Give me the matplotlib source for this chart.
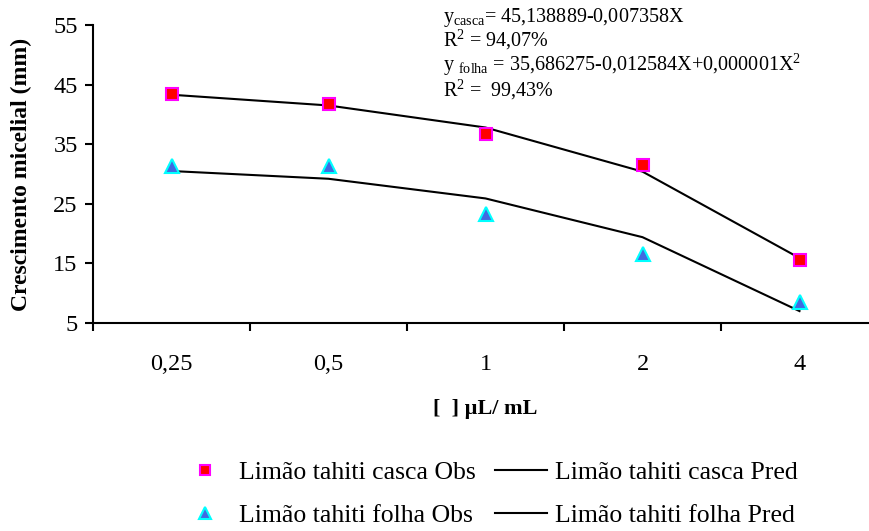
import matplotlib
matplotlib.use("Agg")
import matplotlib.pyplot as plt

plt.rcParams['font.family'] = ['Liberation Serif', 'DejaVu Serif']
plt.rcParams['mathtext.fontset'] = 'custom'
plt.rcParams['mathtext.rm'] = 'Liberation Serif'

doses = ['0,25', '0,5', '1', '2', '4']
casca_obs = [43.4, 41.7, 36.7, 31.5, 15.6]
folha_obs = [31.3, 31.3, 23.3, 16.6, 8.5]
casca_pred = [43.3, 41.5, 37.8, 30.4, 15.9]
folha_pred = [30.5, 29.2, 25.9, 19.4, 7.0]

fig = plt.figure(figsize=(8.7, 5.31), dpi=100)
ax = fig.add_axes([93 / 870, 208 / 531, 785 / 870, 298 / 531])

x = list(range(len(doses)))
l_cp, = ax.plot(x, casca_pred, color='black', lw=1.5, zorder=2)
l_fp, = ax.plot(x, folha_pred, color='black', lw=1.5, zorder=2)
m_co, = ax.plot(x, casca_obs, ls='none', marker='s', ms=9, mfc='red',
                mec='magenta', mew=1.5, zorder=3)
m_fo, = ax.plot(x, folha_obs, ls='none', marker='^', ms=10, mfc='royalblue',
                mec='cyan', mew=1.5, zorder=3)

ax.set_xlim(-0.5, 4.5)
ax.set_ylim(5, 55)
ax.set_yticks([5, 15, 25, 35, 45, 55])
ax.set_xticks(x)
ax.set_xticklabels(doses)
ax.set_xticks([-0.5, 0.5, 1.5, 2.5, 3.5], minor=True)
ax.tick_params(axis='x', which='major', length=0, pad=22, labelsize=17.5)
ax.tick_params(axis='x', which='minor', length=6, width=1.5, direction='out')
ax.tick_params(axis='y', length=6, width=1.5, labelsize=17.5, pad=5)
for s in ['top', 'right']:
    ax.spines[s].set_visible(False)
for s in ['left', 'bottom']:
    ax.spines[s].set_linewidth(1.5)

ax.set_ylabel('Crescimento micelial (mm)', fontsize=17, fontweight='bold')
ax.yaxis.set_label_coords(-0.078, 0.5)
ax.set_xlabel('[  ] µL/ mL', fontsize=16, fontweight='bold')
ax.xaxis.set_label_coords(0.5, -0.255)

# equations, typed as in the original figure
tx = 443 / 870
fig.text(tx, 1 - 22 / 531, r'$\mathregular{y_{casca}}$= 45,138889-0,007358X', fontsize=14.5)
fig.text(tx, 1 - 46 / 531, r'R$\mathregular{^2}$ = 94,07%', fontsize=14.5)
fig.text(tx, 1 - 71 / 531, r'y $\mathregular{_{folha}}$ = 35,686275-0,012584X+0,000001X$\mathregular{^2}$', fontsize=14.5)
fig.text(tx, 1 - 96 / 531, r'R$\mathregular{^2}$ =  99,43%', fontsize=14.5)

fig.legend([m_co, m_fo, l_cp, l_fp],
           ['Limão tahiti casca Obs', 'Limão tahiti folha Obs',
            'Limão tahiti casca Pred', 'Limão tahiti folha Pred'],
           ncol=2, loc='center', bbox_to_anchor=(488 / 870, 1 - 494 / 531),
           frameon=False, fontsize=18.5, handlelength=2.06, handletextpad=0.3,
           columnspacing=0.74, labelspacing=0.75, markerscale=0.8,
           borderpad=0)

fig.savefig('out.png', dpi=100)
